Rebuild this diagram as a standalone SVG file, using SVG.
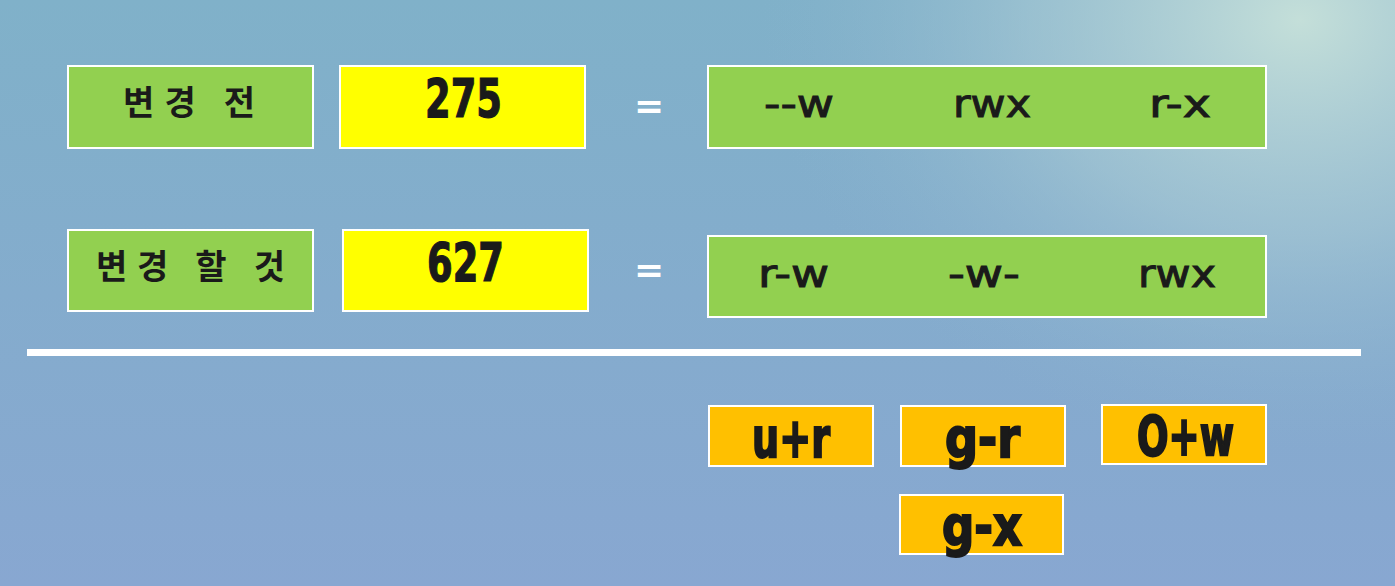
<svg xmlns="http://www.w3.org/2000/svg" width="1395" height="586" viewBox="0 0 1395 586">
<defs>
<linearGradient id="bg" x1="0" y1="0" x2="0" y2="1">
<stop offset="0" stop-color="#80b1c9"/>
<stop offset="1" stop-color="#88a7d1"/>
</linearGradient>
<radialGradient id="glow" cx="1300" cy="20" r="540" gradientUnits="userSpaceOnUse" gradientTransform="translate(1300 20) scale(1 0.8) translate(-1300 -20)">
<stop offset="0" stop-color="#c4dfd9" stop-opacity="1"/>
<stop offset="0.5" stop-color="#aecdd6" stop-opacity="0.55"/>
<stop offset="1" stop-color="#8ab3cf" stop-opacity="0"/>
</radialGradient>
<style>
.box{stroke:#ffffff;stroke-width:2}
.green{fill:#92d050}
.yellow{fill:#ffff00}
.orange{fill:#ffc000}
.kr{font-family:"Noto Sans CJK KR","Noto Sans",sans-serif;font-weight:700;font-size:34px;fill:#1a1a1a}
.num{font-family:"DejaVu Sans Condensed","DejaVu Sans",sans-serif;font-weight:700;font-size:54px;fill:#1a1a1a;stroke:#1a1a1a;stroke-width:1.2}
.perm{font-family:"DejaVu Sans",sans-serif;font-size:38px;fill:#1a1a1a;stroke:#1a1a1a;stroke-width:1}
.eq{font-family:"DejaVu Sans",sans-serif;font-size:36px;fill:#ffffff;font-weight:700}
.op{font-family:"DejaVu Sans Condensed","DejaVu Sans",sans-serif;font-weight:700;font-size:56px;fill:#1a1a1a;stroke:#1a1a1a;stroke-width:2}
</style>
</defs>
<rect width="1395" height="586" fill="url(#bg)"/>
<rect width="1395" height="586" fill="url(#glow)"/>

<g id="before-label"><rect class="box green" x="68" y="66" width="245" height="82"/><text class="kr" x="123" y="115" textLength="132" lengthAdjust="spacing">변경 전</text></g>
<g id="before-num"><rect class="box yellow" x="340" y="66" width="245" height="82"/><text class="num" x="425" y="117" textLength="77" lengthAdjust="spacingAndGlyphs">275</text></g>
<g id="eq1"><text class="eq" x="649" y="118" text-anchor="middle">=</text></g>
<g id="before-perm"><rect class="box green" x="708" y="66" width="558" height="82"/>
<text class="perm" x="764" y="117" textLength="70" lengthAdjust="spacingAndGlyphs">--w</text>
<text class="perm" x="953" y="117" textLength="78" lengthAdjust="spacingAndGlyphs">rwx</text>
<text class="perm" x="1149" y="117" textLength="62" lengthAdjust="spacingAndGlyphs">r-x</text></g>

<g id="after-label"><rect class="box green" x="68" y="230" width="245" height="81"/><text class="kr" x="96" y="279" textLength="189" lengthAdjust="spacing">변경 할 것</text></g>
<g id="after-num"><rect class="box yellow" x="343" y="230" width="245" height="81"/><text class="num" x="427" y="281" textLength="77" lengthAdjust="spacingAndGlyphs">627</text></g>
<g id="eq2"><text class="eq" x="649" y="282" text-anchor="middle">=</text></g>
<g id="after-perm"><rect class="box green" x="708" y="236" width="558" height="81"/>
<text class="perm" x="758" y="287" textLength="71" lengthAdjust="spacingAndGlyphs">r-w</text>
<text class="perm" x="948" y="287" textLength="72" lengthAdjust="spacingAndGlyphs">-w-</text>
<text class="perm" x="1138" y="287" textLength="78" lengthAdjust="spacingAndGlyphs">rwx</text></g>

<g id="divider"><rect x="27" y="349" width="1334" height="7" fill="#ffffff"/></g>

<g id="op-ur"><rect class="box orange" x="709" y="406" width="164" height="60"/><text class="op" x="752" y="457" textLength="78" lengthAdjust="spacingAndGlyphs">u+r</text></g>
<g id="op-gr"><rect class="box orange" x="901" y="406" width="164" height="60"/><text class="op" x="945" y="457" textLength="75" lengthAdjust="spacingAndGlyphs">g-r</text></g>
<g id="op-ow"><rect class="box orange" x="1102" y="405" width="164" height="59"/><text class="op" x="1137" y="455" textLength="97" lengthAdjust="spacingAndGlyphs">O+w</text></g>
<g id="op-gx"><rect class="box orange" x="900" y="495" width="163" height="59"/><text class="op" x="942" y="545" textLength="80" lengthAdjust="spacingAndGlyphs">g-x</text></g>
</svg>
